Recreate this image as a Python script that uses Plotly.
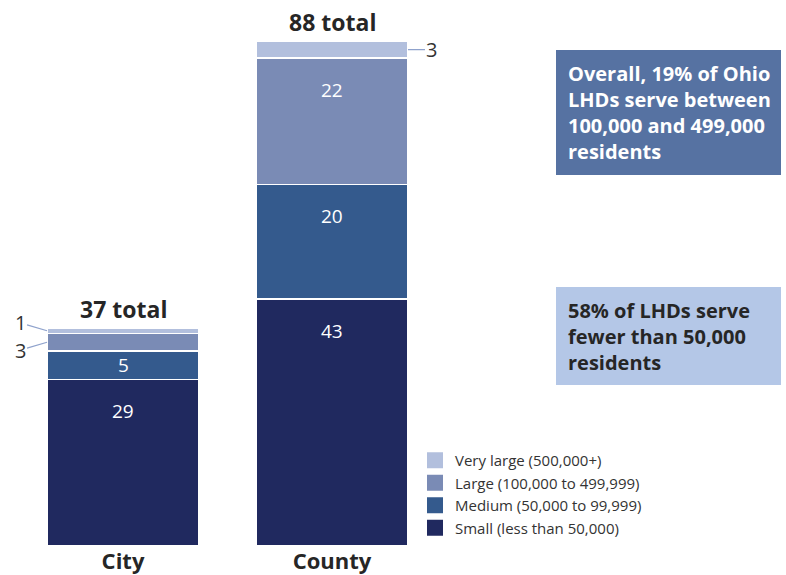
import plotly.graph_objects as go

# LHD counts by jurisdiction type and population served
jurisdictions = ["City", "County"]
size_classes = [
    "Small (less than 50,000)",
    "Medium (50,000 to 99,999)",
    "Large (100,000 to 499,999)",
    "Very large (500,000+)",
]
city_counts = [29, 5, 3, 1]
county_counts = [43, 20, 22, 3]
reported_totals = [37, 88]
class_colors = ["#20295F", "#345A8D", "#7A8BB5", "#B2BFDD"]

FONT = "Open Sans"
x_pos = [0, 1]
BAR_W = 0.727

fig = go.Figure()
for i, name in enumerate(size_classes):
    fig.add_trace(go.Bar(
        x=x_pos,
        y=[city_counts[i], county_counts[i]],
        name=name,
        width=BAR_W,
        marker=dict(color=class_colors[i], line=dict(color="white", width=1.5)),
        hoverinfo="skip",
        showlegend=False,
    ))
    # square legend swatches
    fig.add_trace(go.Scatter(
        x=[None], y=[None], mode="markers", name=name,
        marker=dict(symbol="square", size=16, color=class_colors[i]),
        showlegend=True,
    ))

annotations = []
shapes = []

# in-bar value labels for the larger segments, totals above each stack
for xi, counts, total in zip(x_pos, [city_counts, county_counts], reported_totals):
    base = 0
    for i, v in enumerate(counts):
        top = base + v
        if v >= 5:
            y_lab = top - min(v / 2, 5.5)
            annotations.append(dict(
                x=xi, y=y_lab, text=str(v), showarrow=False,
                font=dict(family=FONT, size=19, color="white"),
                xanchor="center", yanchor="middle",
            ))
        base = top
    annotations.append(dict(
        x=xi, y=sum(counts), text=f"<b>{total} total</b>", showarrow=False,
        font=dict(family=FONT, size=23, color="#262626"),
        xanchor="center", yanchor="bottom", yshift=1,
    ))

# leader-line labels for the thin segments
city_vl_mid = sum(city_counts[:3]) + city_counts[3] / 2
city_l_mid = sum(city_counts[:2]) + city_counts[2] / 2
county_vl_mid = sum(county_counts[:3]) + county_counts[3] / 2
leader = dict(showarrow=True, arrowhead=0, arrowwidth=1.2, arrowcolor="#8FA2CC",
              font=dict(family=FONT, size=20, color="#333333"))
annotations.append(dict(x=-BAR_W / 2, y=city_vl_mid, text=str(city_counts[3]),
                        ax=-27, ay=-8, **leader))
annotations.append(dict(x=-BAR_W / 2, y=city_l_mid, text=str(city_counts[2]),
                        ax=-27, ay=8, **leader))
annotations.append(dict(x=1 + BAR_W / 2, y=county_vl_mid, text=str(county_counts[3]),
                        ax=24, ay=0, **leader))

# callout boxes
W, H = 786, 575
def px_x(p):
    return p / W
def px_y(p):
    return (546 - p) / 528

shapes.append(dict(type="rect", xref="paper", yref="paper",
                   x0=px_x(556), x1=px_x(781), y0=px_y(175), y1=px_y(50),
                   fillcolor="#5672A2", line=dict(width=0), layer="below"))
annotations.append(dict(
    xref="paper", yref="paper", x=px_x(566), y=px_y(58), xanchor="left", yanchor="top",
    text="<b>Overall, 19% of Ohio<br>LHDs serve between<br>100,000 and 499,000<br>residents</b>",
    align="left", showarrow=False,
    font=dict(family=FONT, size=20, color="white"),
))
shapes.append(dict(type="rect", xref="paper", yref="paper",
                   x0=px_x(556), x1=px_x(781), y0=px_y(385), y1=px_y(287),
                   fillcolor="#B4C7E7", line=dict(width=0), layer="below"))
annotations.append(dict(
    xref="paper", yref="paper", x=px_x(566), y=px_y(295), xanchor="left", yanchor="top",
    text="<b>58% of LHDs serve<br>fewer than 50,000<br>residents</b>",
    align="left", showarrow=False,
    font=dict(family=FONT, size=20, color="#262626"),
))

fig.update_layout(
    width=W, height=H,
    barmode="stack",
    plot_bgcolor="white", paper_bgcolor="white",
    margin=dict(l=0, r=0, t=18, b=29, pad=0),
    font=dict(family=FONT, color="#262626"),
    xaxis=dict(
        range=[-123 / 209, (W - 123) / 209],
        tickvals=x_pos,
        ticktext=[f"<b>{j}</b>" for j in jurisdictions],
        tickfont=dict(family=FONT, size=22, color="#262626"),
        showgrid=False, zeroline=False, showline=False, ticks="",
        automargin=False,
    ),
    yaxis=dict(range=[0, 92], visible=False, automargin=False),
    legend=dict(
        x=px_x(415), y=px_y(544), xanchor="left", yanchor="bottom",
        traceorder="reversed", font=dict(family=FONT, size=15, color="#333333"),
        bgcolor="rgba(0,0,0,0)", itemwidth=30, tracegroupgap=0,
    ),
    annotations=annotations,
    shapes=shapes,
)

fig.write_html("out.html")
